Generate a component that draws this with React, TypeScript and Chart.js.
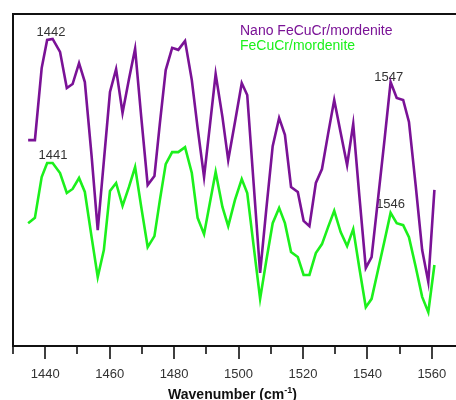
import React, { useEffect, useRef } from "react";
import { Chart, registerables } from "chart.js";

Chart.register(...registerables);

// Wavenumber positions (cm^-1) of the recorded spectrum points
const wavenumbers = [
  1434.7, 1436.8, 1438.9, 1440.6, 1442.3, 1444.6, 1446.7, 1448.5, 1450.5, 1452.3,
  1454.4, 1456.3, 1458.2, 1460.1, 1462.0, 1464.0, 1466.0, 1467.9, 1469.8, 1471.8,
  1473.9, 1475.6, 1477.4, 1479.4, 1481.3, 1483.4, 1485.5, 1487.3, 1489.3, 1491.1,
  1492.9, 1495.0, 1496.8, 1498.9, 1501.0, 1502.7, 1504.7, 1506.7, 1508.6, 1510.6,
  1512.6, 1514.4, 1516.3, 1518.4, 1520.2, 1522.0, 1524.0, 1525.9, 1527.8, 1529.7,
  1531.7, 1533.7, 1535.6, 1537.5, 1539.5, 1541.3, 1543.3, 1545.3, 1547.2, 1549.1,
  1551.1, 1552.9, 1555.0, 1557.0, 1558.9, 1560.8,
];

// Nano FeCuCr/mordenite (arbitrary intensity units)
const nanoValues = [
  62.0, 62.0, 83.7, 92.2, 92.5, 88.6, 77.7, 78.9, 85.2, 79.5,
  57.2, 34.9, 55.7, 76.5, 83.4, 70.2, 80.4, 89.5, 69.0, 48.5,
  51.2, 67.2, 83.1, 89.8, 89.2, 91.9, 80.1, 65.7, 50.9, 66.3,
  81.9, 69.0, 56.0, 67.5, 79.2, 75.6, 48.8, 22.0, 41.0, 60.2,
  68.7, 63.6, 47.9, 46.4, 37.7, 36.1, 49.1, 53.3, 63.9, 74.1,
  64.2, 54.5, 66.9, 45.2, 23.5, 26.8, 44.3, 62.0, 79.5, 74.7,
  74.1, 67.5, 48.2, 28.9, 19.3, 47.0,
];

// FeCuCr/mordenite (arbitrary intensity units)
const bulkValues = [
  37.0, 38.6, 50.9, 55.1, 55.1, 52.1, 46.1, 47.3, 50.6, 46.4,
  32.8, 20.8, 28.9, 46.7, 49.1, 42.2, 47.9, 53.9, 41.9, 29.8,
  33.1, 44.0, 54.8, 58.4, 58.4, 59.9, 52.1, 38.6, 33.7, 43.1,
  52.4, 41.9, 36.1, 44.0, 50.3, 46.1, 30.1, 14.2, 25.6, 37.0,
  41.6, 37.0, 28.3, 26.8, 21.4, 21.4, 28.0, 30.7, 35.8, 40.7,
  34.3, 30.1, 35.2, 23.5, 11.7, 14.2, 22.9, 31.6, 40.1, 37.0,
  36.4, 32.8, 23.8, 14.8, 10.2, 24.4,
];

const seriesNames = ["Nano FeCuCr/mordenite", "FeCuCr/mordenite"];

// x-axis tick values
const majorTicks = [1440, 1460, 1480, 1500, 1520, 1540, 1560];
const minorTicks = [1430, 1450, 1470, 1490, 1510, 1530, 1550];

// peak annotations: label text, anchor wavenumber, anchor intensity
const peakLabels = ["1442", "1441", "1547", "1546"];
const peakLabelX = [1441.8, 1442.4, 1546.6, 1547.2];
const peakLabelY = [94.8, 57.6, 81.3, 42.9];

const axisTitle = "Wavenumber (cm";
const axisTitleSup = "-1";

const PURPLE = "#7a1296";
const GREEN = "#1cf01c";
const FONT = "'Liberation Sans', Arial, sans-serif";

const framePlugin = {
  id: "frame",
  beforeDatasetsDraw(chart: any) {
    const { ctx } = chart;
    const xs = chart.scales.x;
    const ys = chart.scales.y;
    ctx.save();
    ctx.fillStyle = "#333";
    ctx.font = `13px ${FONT}`;
    ctx.textAlign = "center";
    ctx.textBaseline = "alphabetic";
    peakLabels.forEach((t, i) => {
      const px = xs.getPixelForValue(peakLabelX[i]);
      const py = ys.getPixelForValue(peakLabelY[i]);
      ctx.fillText(t, px, py + 4.7);
    });
    ctx.restore();
  },
  afterDraw(chart: any) {
    const { ctx, chartArea } = chart;
    const { left, top, right, bottom } = chartArea;
    const xs = chart.scales.x;
    ctx.save();
    // frame lines
    ctx.strokeStyle = "#111";
    ctx.lineWidth = 2;
    ctx.beginPath();
    ctx.moveTo(left, bottom);
    ctx.lineTo(left, top);
    ctx.lineTo(right + 2, top);
    ctx.moveTo(left - 1, bottom);
    ctx.lineTo(right + 2, bottom);
    ctx.stroke();
    // ticks
    ctx.lineWidth = 1.6;
    ctx.beginPath();
    majorTicks.forEach((v) => {
      const px = Math.round(xs.getPixelForValue(v));
      ctx.moveTo(px, bottom);
      ctx.lineTo(px, bottom + 13);
    });
    minorTicks.forEach((v) => {
      const px = Math.round(xs.getPixelForValue(v));
      ctx.moveTo(px, bottom);
      ctx.lineTo(px, bottom + 8);
    });
    ctx.stroke();
    // tick labels
    ctx.fillStyle = "#333";
    ctx.font = `13px ${FONT}`;
    ctx.textAlign = "center";
    ctx.textBaseline = "alphabetic";
    majorTicks.forEach((v) => {
      ctx.fillText(String(v), xs.getPixelForValue(v), bottom + 32);
    });
    // axis title
    ctx.fillStyle = "#111";
    ctx.font = `bold 14px ${FONT}`;
    const w1 = ctx.measureText(axisTitle).width;
    ctx.font = `bold 9px ${FONT}`;
    const w2 = ctx.measureText(axisTitleSup).width;
    ctx.font = `bold 14px ${FONT}`;
    const w3 = ctx.measureText(")").width;
    const total = w1 + w2 + w3;
    const cx = (left + right) / 2 - 2;
    let x0 = cx - total / 2;
    const base = bottom + 53;
    ctx.textAlign = "left";
    ctx.fillText(axisTitle, x0, base);
    ctx.font = `bold 9px ${FONT}`;
    ctx.fillText(axisTitleSup, x0 + w1, base - 6);
    ctx.font = `bold 14px ${FONT}`;
    ctx.fillText(")", x0 + w1 + w2, base);
    // legend
    ctx.font = `14px ${FONT}`;
    ctx.textAlign = "left";
    ctx.fillStyle = PURPLE;
    ctx.fillText(seriesNames[0], 240, 35);
    ctx.fillStyle = GREEN;
    ctx.fillText(seriesNames[1], 240, 49.5);
    ctx.restore();
  },
};

export default function App() {
  const canvasRef = useRef<HTMLCanvasElement | null>(null);

  useEffect(() => {
    if (!canvasRef.current) return;
    const chart = new Chart(canvasRef.current, {
      type: "line",
      data: {
        datasets: [
          {
            label: seriesNames[0],
            data: wavenumbers.map((x, i) => ({ x, y: nanoValues[i] })),
            borderColor: PURPLE,
            borderWidth: 2.6,
            pointRadius: 0,
            tension: 0,
            fill: false,
          },
          {
            label: seriesNames[1],
            data: wavenumbers.map((x, i) => ({ x, y: bulkValues[i] })),
            borderColor: GREEN,
            borderWidth: 2.6,
            pointRadius: 0,
            tension: 0,
            fill: false,
          },
        ],
      },
      options: {
        responsive: false,
        animation: false,
        layout: { padding: { left: 13, top: 14, right: 0, bottom: 54 } },
        scales: {
          x: { type: "linear", min: 1430, max: 1567.5, display: false },
          y: { min: 0, max: 100, display: false },
        },
        plugins: {
          legend: { display: false },
          tooltip: { enabled: false },
        },
      },
      plugins: [framePlugin],
    });
    return () => chart.destroy();
  }, []);

  return (
    <div style={{ position: "absolute", left: 0, top: 0, width: 456, height: 400, background: "#fff" }}>
      <canvas ref={canvasRef} width={456} height={400} />
    </div>
  );
}
